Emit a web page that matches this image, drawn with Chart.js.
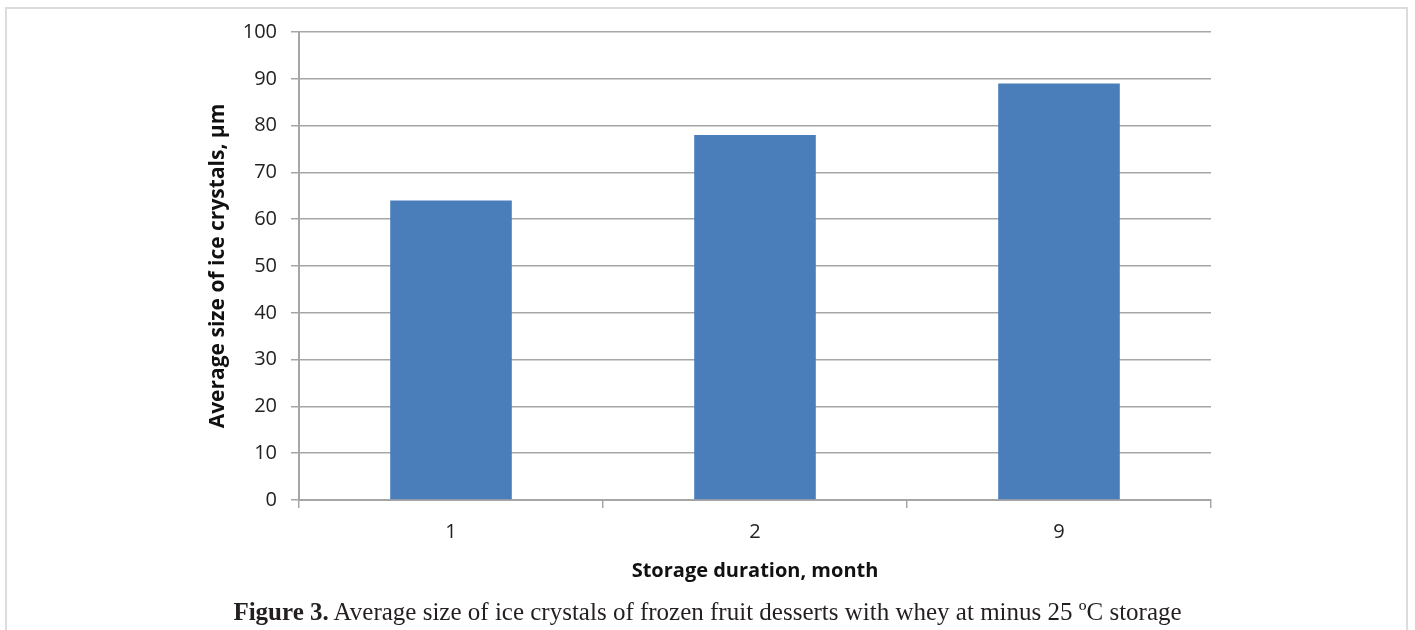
<!DOCTYPE html>
<html>
<head>
<meta charset="utf-8">
<script src="https://cdn.jsdelivr.net/npm/chart.js@4/dist/chart.umd.min.js"></script>
<style>
  body { margin: 0; background: #fff; }
  #frame { position: absolute; left: 5px; top: 7px; width: 1403px; height: 640px; border: 2px solid #dcdcdc; box-sizing: border-box; }
  #wrap { position: absolute; left: 0; top: 0; width: 1415px; height: 600px; }
  #caption { position: absolute; left: 0; top: 600px; width: 1415px; text-align: center; line-height: 24px;
    font-family: "Liberation Serif", serif; font-size: 25px; color: #231f20; }
</style>
</head>
<body>
<div id="frame"></div>
<div id="wrap"><canvas id="chart"></canvas></div>
<div id="caption"><b>Figure 3.</b> Average size of ice crystals of frozen fruit desserts with whey at minus 25 ºC storage</div>
<script>
// storage months and measured crystal size
var months = ['1', '2', '9'];
var crystalSize = [64, 78, 89];
var yMin = 0, yMax = 100, yStep = 10;

var axisGray = '#a6a6a6';
var tickFont = { family: 'Open Sans', size: 20 };

var ctx = document.getElementById('chart').getContext('2d');
var chart = new Chart(ctx, {
  type: 'bar',
  data: {
    labels: months,
    datasets: [{
      data: crystalSize,
      backgroundColor: '#4a7ebb',
      barPercentage: 0.4,
      categoryPercentage: 1
    }]
  },
  options: {
    responsive: true,
    maintainAspectRatio: false,
    animation: false,
    layout: { padding: { left: 0, right: 204, top: 32, bottom: 0 } },
    plugins: { legend: { display: false }, tooltip: { enabled: false } },
    scales: {
      x: {
        offset: true,
        grid: { offset: true, drawOnChartArea: false, drawTicks: true, tickLength: 8, color: axisGray, lineWidth: 1.5 },
        border: { color: axisGray, width: 2 },
        ticks: { color: '#222', font: tickFont, padding: 12 },
        title: { display: true, text: 'Storage duration, month', color: '#111',
          font: { family: 'Open Sans', size: 20, weight: 'bold' }, padding: { top: 0, bottom: 17 } },
        afterFit: function (s) { s.height = 100; }
      },
      y: {
        min: yMin, max: yMax,
        ticks: { stepSize: yStep, color: '#222', font: tickFont, padding: 14 },
        grid: { color: axisGray, lineWidth: 1.5, tickLength: 8 },
        border: { color: axisGray, width: 2 },
        title: { display: true, text: 'Average size of ice crystals, µm', color: '#111',
          font: { family: 'Open Sans', size: 21, weight: 'bold' }, padding: { top: 205, bottom: 0 } },
        afterFit: function (s) { s.width = 299; }
      }
    }
  }
});
</script>
</body>
</html>
